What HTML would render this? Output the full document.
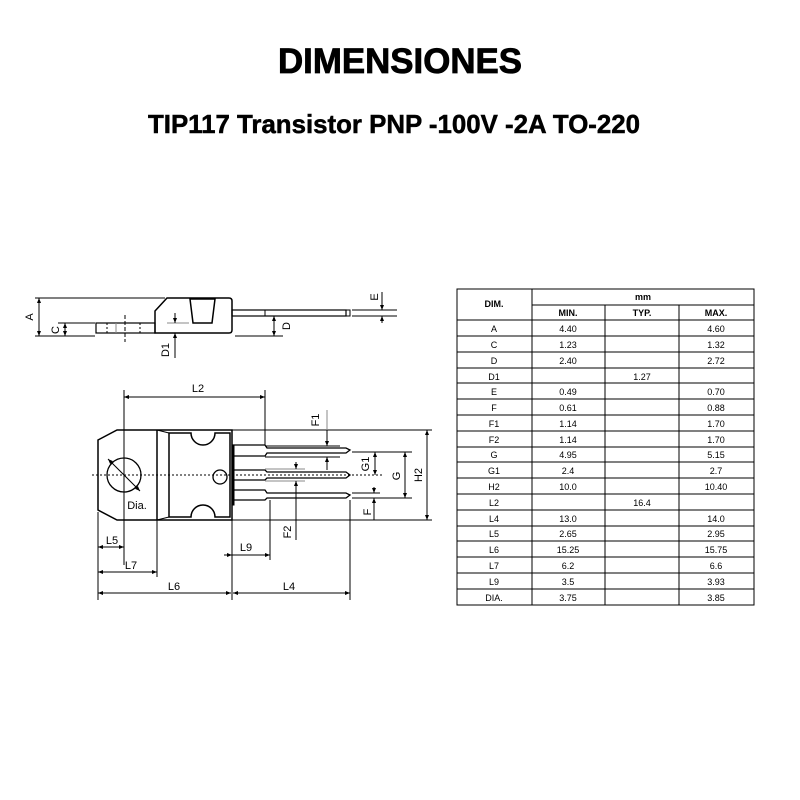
<!DOCTYPE html>
<html><head><meta charset="utf-8"><style>body{margin:0;background:#fff}svg{display:block}</style></head><body>
<svg width="800" height="800" viewBox="0 0 800 800" xmlns="http://www.w3.org/2000/svg" font-family="Liberation Sans, sans-serif">
<defs>
<marker id="a" viewBox="0 0 10 10" refX="10" refY="5" markerWidth="5" markerHeight="5" orient="auto-start-reverse"><path d="M0,1L10,5L0,9z" fill="#000"/></marker>
</defs>
<rect width="800" height="800" fill="#fff"/>
<text x="400" y="73" text-anchor="middle" font-size="35" font-weight="bold" stroke="#000" stroke-width="0.8" textLength="244" lengthAdjust="spacingAndGlyphs">DIMENSIONES</text>
<text x="394" y="133" text-anchor="middle" font-size="26" font-weight="bold" stroke="#000" stroke-width="0.5" textLength="492" lengthAdjust="spacingAndGlyphs">TIP117 Transistor PNP -100V -2A TO-220</text>

<g stroke="#000" stroke-width="1" fill="none">
<!-- side view -->
<line x1="35" y1="298" x2="165" y2="298"/>
<line x1="35" y1="336" x2="95" y2="336"/>
<line x1="39" y1="298" x2="39" y2="336" marker-start="url(#a)" marker-end="url(#a)"/>
<line x1="58" y1="323" x2="95" y2="323"/>
<line x1="65" y1="323" x2="65" y2="336" marker-start="url(#a)" marker-end="url(#a)"/>
<path d="M155,311 L167,298 L229,298 Q232,298 232,301 L232,330 Q232,333 229,333 L155,333 Z" stroke-width="1.5"/>
<path d="M190,299 L215,299 L212,323 L193,323 Z" stroke-width="1.5"/>
<rect x="96" y="323" width="59" height="10" stroke-width="1.2"/>
<line x1="107" y1="323" x2="107" y2="333" stroke-dasharray="2,2"/>
<line x1="140" y1="323" x2="140" y2="333" stroke-dasharray="2,2"/>
<line x1="116" y1="323" x2="116" y2="333" stroke="#888"/>
<line x1="125" y1="315" x2="125" y2="342" stroke-dasharray="4,2"/>
<line x1="167" y1="323" x2="189" y2="323" stroke="#888"/>
<line x1="175" y1="313" x2="175" y2="323" marker-end="url(#a)"/>
<line x1="175" y1="358" x2="175" y2="333" marker-end="url(#a)"/>
<rect x="232" y="310" width="114" height="6" stroke-width="1.2"/>
<line x1="265" y1="310" x2="265" y2="316"/>
<rect x="346" y="310" width="4" height="6"/>
<line x1="235" y1="336" x2="283" y2="336"/>
<line x1="274" y1="316" x2="274" y2="336" marker-start="url(#a)" marker-end="url(#a)"/>
<line x1="352" y1="310" x2="397" y2="310"/>
<line x1="352" y1="316" x2="397" y2="316"/>
<line x1="382" y1="292" x2="382" y2="310" marker-end="url(#a)"/>
<line x1="382" y1="323" x2="382" y2="316" marker-end="url(#a)"/>

<!-- front view -->
<path d="M98,440 L117,430 L232,430 L232,520 L117,520 L98,510 Z" stroke-width="1.5"/>
<line x1="157" y1="430" x2="157" y2="520" stroke-width="1.5"/>
<path d="M157,430 L169,433 M157,520 L169,517"/>
<path d="M169,433 L191,433 A12,12 0 0 0 215,433 L230,433 L230,517 L215,517 A12,12 0 0 0 191,517 L169,517 Z" stroke-width="1.5"/>
<circle cx="220" cy="477" r="7" stroke-width="1.3"/>
<circle cx="124" cy="475" r="17" stroke-width="1.3"/>
<line x1="108" y1="459" x2="140" y2="491" marker-start="url(#a)" marker-end="url(#a)"/>
<line x1="92" y1="475" x2="382" y2="475" stroke-dasharray="2,2"/>
<rect x="232" y="445" width="2" height="60" fill="#000"/>
<!-- leads -->
<g stroke-width="1.3">
<path d="M232,445 L265,445 L267,448 L346,448 L350,450 L346,453 L267,453 L265,456 L232,456"/>
<path d="M232,470 L265,470 L267,472 L346,472 L350,475 L346,478 L267,478 L265,480 L232,480"/>
<path d="M232,490 L265,490 L267,493 L346,493 L350,495 L346,498 L267,498 L265,500 L232,500"/>
</g>
<!-- L2 -->
<line x1="124" y1="390" x2="124" y2="565"/>
<line x1="265" y1="390" x2="265" y2="445"/>
<line x1="124" y1="397" x2="265" y2="397" marker-start="url(#a)" marker-end="url(#a)"/>
<!-- extension lines right -->
<line x1="232" y1="430" x2="432" y2="430"/>
<line x1="232" y1="520" x2="432" y2="520"/>
<line x1="352" y1="452" x2="412" y2="452"/>
<line x1="352" y1="498" x2="412" y2="498"/>
<line x1="427" y1="430" x2="427" y2="520" marker-start="url(#a)" marker-end="url(#a)"/>
<line x1="405" y1="452" x2="405" y2="498" marker-start="url(#a)" marker-end="url(#a)"/>
<line x1="375" y1="452" x2="375" y2="475" marker-start="url(#a)" marker-end="url(#a)"/>
<!-- F1 -->
<line x1="265" y1="446" x2="340" y2="446"/>
<line x1="265" y1="457" x2="340" y2="457"/>
<line x1="327" y1="410" x2="327" y2="446" stroke="#888"/>
<line x1="327" y1="430" x2="327" y2="446" marker-end="url(#a)"/>
<line x1="327" y1="470" x2="327" y2="457" marker-end="url(#a)"/>
<!-- F2 -->
<line x1="265" y1="469" x2="305" y2="469" stroke="#888"/>
<line x1="265" y1="481" x2="305" y2="481" stroke="#888"/>
<line x1="296" y1="462" x2="296" y2="469" marker-end="url(#a)"/>
<line x1="296" y1="540" x2="296" y2="481" marker-end="url(#a)"/>
<!-- F -->
<line x1="352" y1="493" x2="380" y2="493"/>
<line x1="374" y1="487" x2="374" y2="493" marker-end="url(#a)"/>
<line x1="374" y1="520" x2="374" y2="498" marker-end="url(#a)"/>
<!-- bottom dims -->
<line x1="98" y1="512" x2="98" y2="600"/>
<line x1="157" y1="520" x2="157" y2="577"/>
<line x1="232" y1="520" x2="232" y2="600"/>
<line x1="270" y1="500" x2="270" y2="560"/>
<line x1="350" y1="500" x2="350" y2="600"/>
<line x1="98" y1="547" x2="124" y2="547" marker-start="url(#a)" marker-end="url(#a)"/>
<line x1="98" y1="572" x2="157" y2="572" marker-start="url(#a)" marker-end="url(#a)"/>
<line x1="98" y1="593" x2="231" y2="593" marker-start="url(#a)" marker-end="url(#a)"/>
<line x1="233" y1="593" x2="350" y2="593" marker-start="url(#a)" marker-end="url(#a)"/>
<line x1="224" y1="555" x2="232" y2="555" marker-end="url(#a)"/>
<line x1="270" y1="555" x2="232" y2="555" marker-start="url(#a)"/>
</g>
<g font-size="11" fill="#000">
<text x="33" y="317" transform="rotate(-90 33 317)" text-anchor="middle">A</text>
<text x="59" y="330" transform="rotate(-90 59 330)" text-anchor="middle">C</text>
<text x="169" y="350" transform="rotate(-90 169 350)" text-anchor="middle">D1</text>
<text x="290" y="326" transform="rotate(-90 290 326)" text-anchor="middle">D</text>
<text x="378" y="297" transform="rotate(-90 378 297)" text-anchor="middle">E</text>
<text x="198" y="392" text-anchor="middle">L2</text>
<text x="319" y="420" transform="rotate(-90 319 420)" text-anchor="middle">F1</text>
<text x="369" y="464" transform="rotate(-90 369 464)" text-anchor="middle">G1</text>
<text x="400" y="476" transform="rotate(-90 400 476)" text-anchor="middle">G</text>
<text x="422" y="475" transform="rotate(-90 422 475)" text-anchor="middle">H2</text>
<text x="291" y="532" transform="rotate(-90 291 532)" text-anchor="middle">F2</text>
<text x="371" y="512" transform="rotate(-90 371 512)" text-anchor="middle">F</text>
<text x="137" y="509" text-anchor="middle">Dia.</text>
<text x="112" y="544" text-anchor="middle">L5</text>
<text x="131" y="569" text-anchor="middle">L7</text>
<text x="174" y="590" text-anchor="middle">L6</text>
<text x="246" y="551" text-anchor="middle">L9</text>
<text x="289" y="590" text-anchor="middle">L4</text>
</g>

<!-- table -->
<g stroke="#000" stroke-width="1" fill="none">
<rect x="457" y="289" width="297" height="316"/>
<line x1="532" y1="289" x2="532" y2="605"/>
<line x1="532" y1="305" x2="754" y2="305"/>
<line x1="605" y1="305" x2="605" y2="605"/>
<line x1="679" y1="305" x2="679" y2="605"/>
<line x1="457" y1="320" x2="754" y2="320"/>
</g>
<g font-size="9" text-anchor="middle" fill="#000">
<text x="494" y="307" font-weight="bold">DIM.</text>
<text x="643" y="300" font-weight="bold">mm</text>
<text x="568" y="316" font-weight="bold">MIN.</text>
<text x="642" y="316" font-weight="bold">TYP.</text>
<text x="716" y="316" font-weight="bold">MAX.</text>
</g>
<g stroke="#000" stroke-width="1">
<line x1="457" y1="336" x2="754" y2="336"/><line x1="457" y1="352" x2="754" y2="352"/><line x1="457" y1="368" x2="754" y2="368"/><line x1="457" y1="383" x2="754" y2="383"/><line x1="457" y1="399" x2="754" y2="399"/><line x1="457" y1="415" x2="754" y2="415"/><line x1="457" y1="431" x2="754" y2="431"/><line x1="457" y1="447" x2="754" y2="447"/><line x1="457" y1="462" x2="754" y2="462"/><line x1="457" y1="478" x2="754" y2="478"/><line x1="457" y1="494" x2="754" y2="494"/><line x1="457" y1="510" x2="754" y2="510"/><line x1="457" y1="526" x2="754" y2="526"/><line x1="457" y1="541" x2="754" y2="541"/><line x1="457" y1="557" x2="754" y2="557"/><line x1="457" y1="573" x2="754" y2="573"/><line x1="457" y1="589" x2="754" y2="589"/>
</g>
<g font-size="9" text-anchor="middle" fill="#000">
<text x="494" y="332">A</text><text x="568" y="332">4.40</text><text x="716" y="332">4.60</text>
<text x="494" y="348">C</text><text x="568" y="348">1.23</text><text x="716" y="348">1.32</text>
<text x="494" y="364">D</text><text x="568" y="364">2.40</text><text x="716" y="364">2.72</text>
<text x="494" y="380">D1</text><text x="642" y="380">1.27</text>
<text x="494" y="395">E</text><text x="568" y="395">0.49</text><text x="716" y="395">0.70</text>
<text x="494" y="411">F</text><text x="568" y="411">0.61</text><text x="716" y="411">0.88</text>
<text x="494" y="427">F1</text><text x="568" y="427">1.14</text><text x="716" y="427">1.70</text>
<text x="494" y="443">F2</text><text x="568" y="443">1.14</text><text x="716" y="443">1.70</text>
<text x="494" y="458">G</text><text x="568" y="458">4.95</text><text x="716" y="458">5.15</text>
<text x="494" y="474">G1</text><text x="568" y="474">2.4</text><text x="716" y="474">2.7</text>
<text x="494" y="490">H2</text><text x="568" y="490">10.0</text><text x="716" y="490">10.40</text>
<text x="494" y="506">L2</text><text x="642" y="506">16.4</text>
<text x="494" y="522">L4</text><text x="568" y="522">13.0</text><text x="716" y="522">14.0</text>
<text x="494" y="537">L5</text><text x="568" y="537">2.65</text><text x="716" y="537">2.95</text>
<text x="494" y="553">L6</text><text x="568" y="553">15.25</text><text x="716" y="553">15.75</text>
<text x="494" y="569">L7</text><text x="568" y="569">6.2</text><text x="716" y="569">6.6</text>
<text x="494" y="585">L9</text><text x="568" y="585">3.5</text><text x="716" y="585">3.93</text>
<text x="494" y="601">DIA.</text><text x="568" y="601">3.75</text><text x="716" y="601">3.85</text>
</g>
</svg>
</body></html>
